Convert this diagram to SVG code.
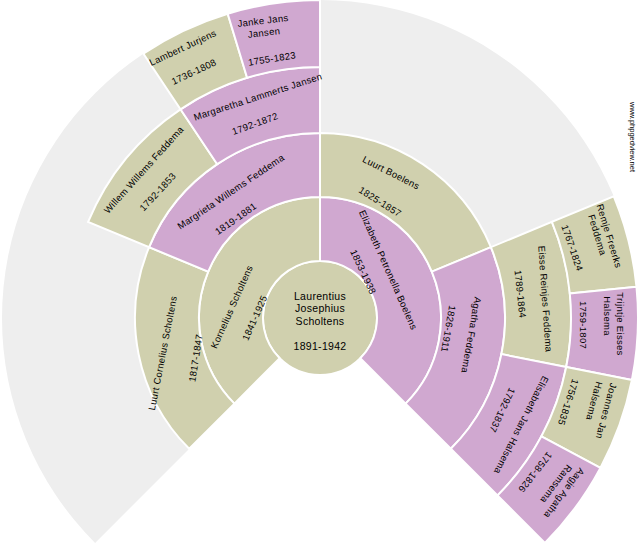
<svg xmlns="http://www.w3.org/2000/svg" width="640" height="550" viewBox="0 0 640 550">
<style>
.m{fill:#d0a8d0;stroke:#fff;stroke-width:2}
.f{fill:#d0d0ae;stroke:#fff;stroke-width:2}
text{font-family:"Liberation Sans",Arial,sans-serif;font-size:9.5px;fill:#000;text-anchor:middle;letter-spacing:0.3px}
.c{font-size:10.5px}
</style>
<rect width="640" height="550" fill="#fff"/>
<path d="M320,318 L95.1,542.9 A318,318 0 1,1 544.9,542.9 Z" fill="#eeeeee"/>
<g id="connectors"/>
<g id="n1"><circle cx="320" cy="318" r="57" class="f"/>
<text class="c" x="320" y="300">Laurentius</text><text class="c" x="320" y="312">Josephius</text><text class="c" x="320" y="325">Scholtens</text><text class="c" x="320" y="350">1891-1942</text></g>
<g id="n2"><path class="f" d="M320,197 A121,121 0 0,0 234.4,403.6 L279.7,358.3 A57,57 0 0,1 320,261 Z"/>
<text transform="translate(232,307) rotate(-66)" y="3">Kornelius Scholtens</text><text transform="translate(255,318) rotate(-66)" y="3">1841-1925</text></g>
<g id="n3"><path class="m" d="M320,197 A121,121 0 0,1 405.6,403.6 L360.3,358.3 A57,57 0 0,0 320,261 Z"/>
<text transform="translate(388,270) rotate(66)" y="3">Elizabeth Petronella Boelens</text><text transform="translate(363,272) rotate(65)" y="3">1853-1938</text></g>
<g id="n4"><path class="f" d="M149.1,247.2 A185,185 0 0,0 189.2,448.8 L234.4,403.6 A121,121 0 0,1 208.2,271.7 Z"/>
<text transform="translate(163,353) rotate(-79)" y="3">Luurt Cornelius Scholtens</text><text transform="translate(196,358) rotate(-81)" y="3">1817-1847</text></g>
<g id="n5"><path class="m" d="M320,133 A185,185 0 0,0 149.1,247.2 L208.2,271.7 A121,121 0 0,1 320,197 Z"/>
<text transform="translate(231,192) rotate(-34)" y="3">Margrieta Willems Feddema</text><text transform="translate(236,219) rotate(-35)" y="3">1819-1881</text></g>
<g id="n6"><path class="f" d="M320,133 A185,185 0 0,1 490.9,247.2 L431.8,271.7 A121,121 0 0,0 320,197 Z"/>
<text transform="translate(391,173) rotate(27)" y="3">Luurt Boelens</text><text transform="translate(380,202) rotate(32)" y="3">1825-1857</text></g>
<g id="n7"><path class="m" d="M490.9,247.2 A185,185 0 0,1 450.8,448.8 L405.6,403.6 A121,121 0 0,0 431.8,271.7 Z"/>
<text transform="translate(471,335) rotate(100)" y="3">Agatha Feddema</text><text transform="translate(448,329) rotate(100)" y="3">1826-1911</text></g>
<g id="n8"><path class="f" d="M180.5,109.3 A251,251 0 0,0 88.1,221.9 L149.1,247.2 A185,185 0 0,1 217.2,164.2 Z"/>
<text transform="translate(144,170) rotate(-48)" y="3">Willem Willems Feddema</text><text transform="translate(158,192) rotate(-47)" y="3">1792-1853</text></g>
<g id="n9"><path class="m" d="M320,67 A251,251 0 0,0 180.5,109.3 L217.2,164.2 A185,185 0 0,1 320,133 Z"/>
<text transform="translate(258,97) rotate(-18)" y="3">Margaretha Lammerts Jansen</text><text transform="translate(255,124) rotate(-20)" y="3">1792-1872</text></g>
<g id="n10"><path class="f" d="M551.9,221.9 A251,251 0 0,1 566.2,367 L501.4,354.1 A185,185 0 0,0 490.9,247.2 Z"/>
<text transform="translate(545,299) rotate(86)" y="3">Eisse Reinjes Feddema</text><text transform="translate(520,294) rotate(84)" y="3">1789-1864</text></g>
<g id="n11"><path class="m" d="M566.2,367 A251,251 0 0,1 497.5,495.5 L450.8,448.8 A185,185 0 0,0 501.4,354.1 Z"/>
<text transform="translate(521,425) rotate(117)" y="3">Elisabeth Jans Halsema</text><text transform="translate(502,410) rotate(115)" y="3">1792-1837</text></g>
<g id="n12"><path class="f" d="M227.7,13.7 A318,318 0 0,0 143.3,53.6 L180.5,109.3 A251,251 0 0,1 247.1,77.8 Z"/>
<text transform="translate(183,48) rotate(-25)" y="3">Lambert Jurjens</text><text transform="translate(194,72) rotate(-25)" y="3">1736-1808</text></g>
<g id="n13"><path class="m" d="M320,0 A318,318 0 0,0 227.7,13.7 L247.1,77.8 A251,251 0 0,1 320,67 Z"/>
<text transform="translate(263,21) rotate(-7)" y="3">Janke Jans</text><text transform="translate(264,33) rotate(-7)" y="3">Jansen</text><text transform="translate(272,59) rotate(-9)" y="3">1755-1823</text></g>
<g id="n14"><path class="f" d="M613.8,196.3 A318,318 0 0,1 636.5,286.8 L569.8,293.4 A251,251 0 0,0 551.9,221.9 Z"/>
<text transform="translate(609,236) rotate(73)" y="3">Remje Freerks</text><text transform="translate(597,235) rotate(73)" y="3">Feddema</text><text transform="translate(572,248) rotate(71)" y="3">1767-1824</text></g>
<g id="n15"><path class="m" d="M636.5,286.8 A318,318 0 0,1 631.9,380 L566.2,367 A251,251 0 0,0 569.8,293.4 Z"/>
<text transform="translate(620,324) rotate(90)" y="3">Trijntje Eisses</text><text transform="translate(607,316) rotate(90)" y="3">Halsema</text><text transform="translate(583,325) rotate(90)" y="3">1759-1807</text></g>
<g id="n16"><path class="f" d="M631.9,380 A318,318 0 0,1 600.4,467.9 L541.4,436.3 A251,251 0 0,0 566.2,367 Z"/>
<text transform="translate(606,411) rotate(105)" y="3">Joannes Jan</text><text transform="translate(594,401) rotate(105)" y="3">Halsema</text><text transform="translate(568,402) rotate(108)" y="3">1756-1835</text></g>
<g id="n17"><path class="m" d="M600.4,467.9 A318,318 0 0,1 544.9,542.9 L497.5,495.5 A251,251 0 0,0 541.4,436.3 Z"/>
<text transform="translate(564,493) rotate(127)" y="3">Aagje Agatha</text><text transform="translate(556,484) rotate(127)" y="3">Ramsema</text><text transform="translate(535,472) rotate(128)" y="3">1758-1826</text></g>
<text transform="translate(633,137) rotate(90)" y="3" style="font-size:7.5px;letter-spacing:0">www.phpgedview.net</text>
</svg>
